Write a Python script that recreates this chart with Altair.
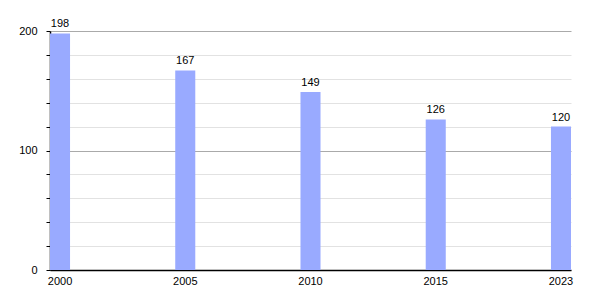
import altair as alt
import pandas as pd

years = ["2000", "2005", "2010", "2015", "2023"]
values = [198, 167, 149, 126, 120]
y_ticks = list(range(0, 201, 20))

df = pd.DataFrame({"year": years, "value": values})

FONT = "Liberation Sans"

base = alt.Chart(df).encode(
    x=alt.X(
        "year:O",
        sort=years,
        title=None,
        scale=alt.Scale(paddingInner=0.84, paddingOuter=0),
        axis=alt.Axis(
            labelAngle=0,
            ticks=False,
            labelPadding=5,
            domainColor="#000000",
            domainWidth=1.5,
            labelFont=FONT,
            labelFontSize=11,
            labelColor="#000000",
            grid=False,
        ),
    ),
    y=alt.Y(
        "value:Q",
        title=None,
        scale=alt.Scale(domain=[0, 200], nice=False),
        axis=alt.Axis(
            values=y_ticks,
            labelExpr="datum.value % 100 === 0 ? datum.label : ''",
            tickSize=4,
            tickColor="#000000",
            labelPadding=9,
            domainColor="#000000",
            domainWidth=1.5,
            labelFont=FONT,
            labelFontSize=11,
            labelColor="#000000",
            grid=True,
            gridColor={
                "condition": {"test": "datum.value % 100 === 0", "value": "#aaaaaa"},
                "value": "#e2e2e2",
            },
        ),
    ),
)

bars = base.mark_bar(color="#99aaff")

labels = base.mark_text(
    baseline="bottom", dy=-4, font=FONT, fontSize=11, color="#000000"
).encode(text="value:Q")

chart = (
    (bars + labels)
    .properties(
        width=521,
        height=239,
        autosize=alt.AutoSizeParams(type="none"),
        padding={"left": 50, "top": 31, "right": 29, "bottom": 30},
        background="#ffffff",
    )
    .configure_view(stroke=None)
)

chart.save("out.html", embed_options={"renderer": "svg", "actions": False})
